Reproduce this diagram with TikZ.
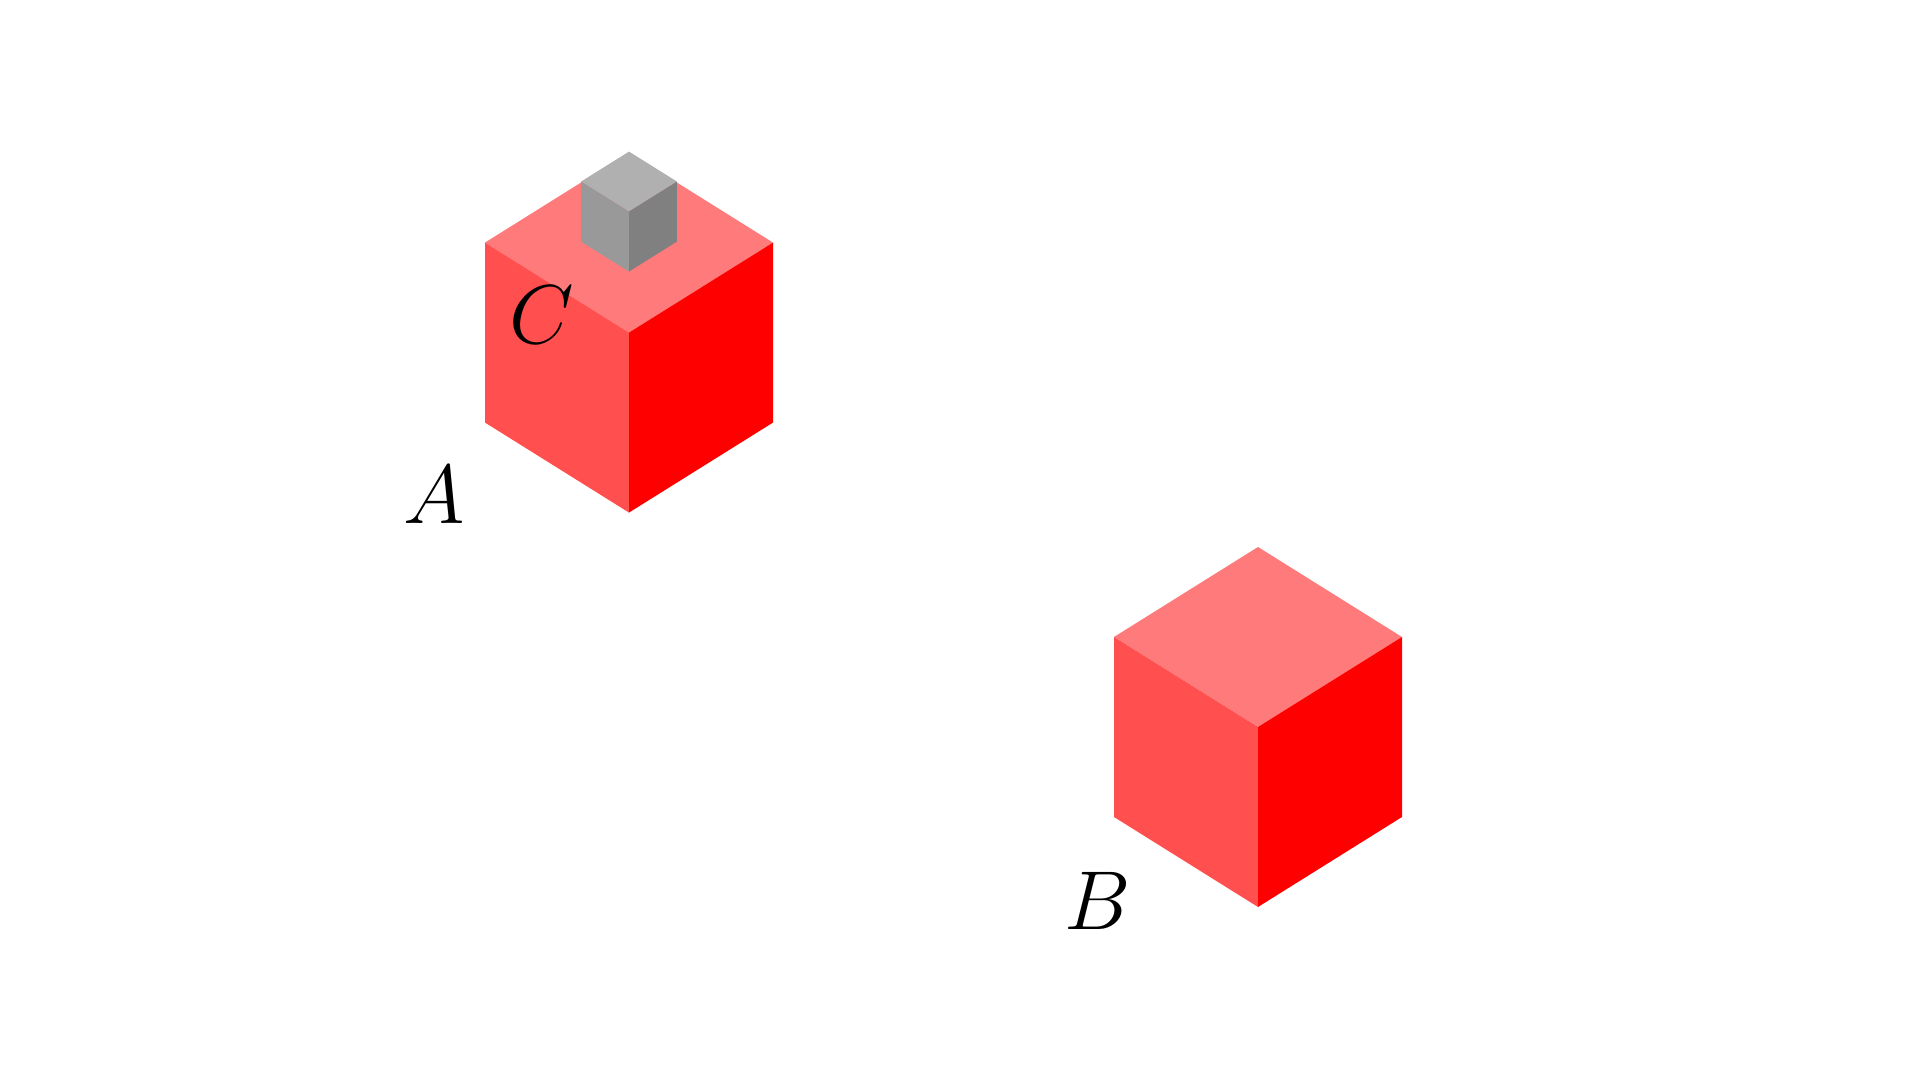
\documentclass[tikz,border=0pt]{standalone}
\definecolor{greytop}{gray}{0.69}
\definecolor{greyleft}{gray}{0.60}
\definecolor{greyright}{gray}{0.50}
\begin{document}
\begin{tikzpicture}[x=0.01cm,y=-0.01cm,every node/.style={font=\Huge,scale=0.955,inner sep=0pt}]
\useasboundingbox (0,0) rectangle (1920,1080);
% Front corner of each cube, size factor, face colours
\foreach \cx/\cy/\s/\ctop/\cleft/\cright in {629/332.6/1/red!52/red!69/red,1258/727/1/red!52/red!69/red,629/211.6/0.3333/greytop/greyleft/greyright} {
\begin{scope}[shift={(\cx,\cy)},scale=\s]
\fill[\ctop] (0,0)--(-144,-90)--(0,-180)--(144,-90)--cycle;
\fill[\cleft] (0,0)--(-144,-90)--(-144,90)--(0,180)--cycle;
\fill[\cright] (0,0)--(144,-90)--(144,90)--(0,180)--cycle;
\end{scope}
}
\node (labA) at (434.3,494.6) {$A$};
\node (labB) at (1098,900.5) {$B$};
\node (labC) at (541.5,315) {$C$};
\end{tikzpicture}
\end{document}
